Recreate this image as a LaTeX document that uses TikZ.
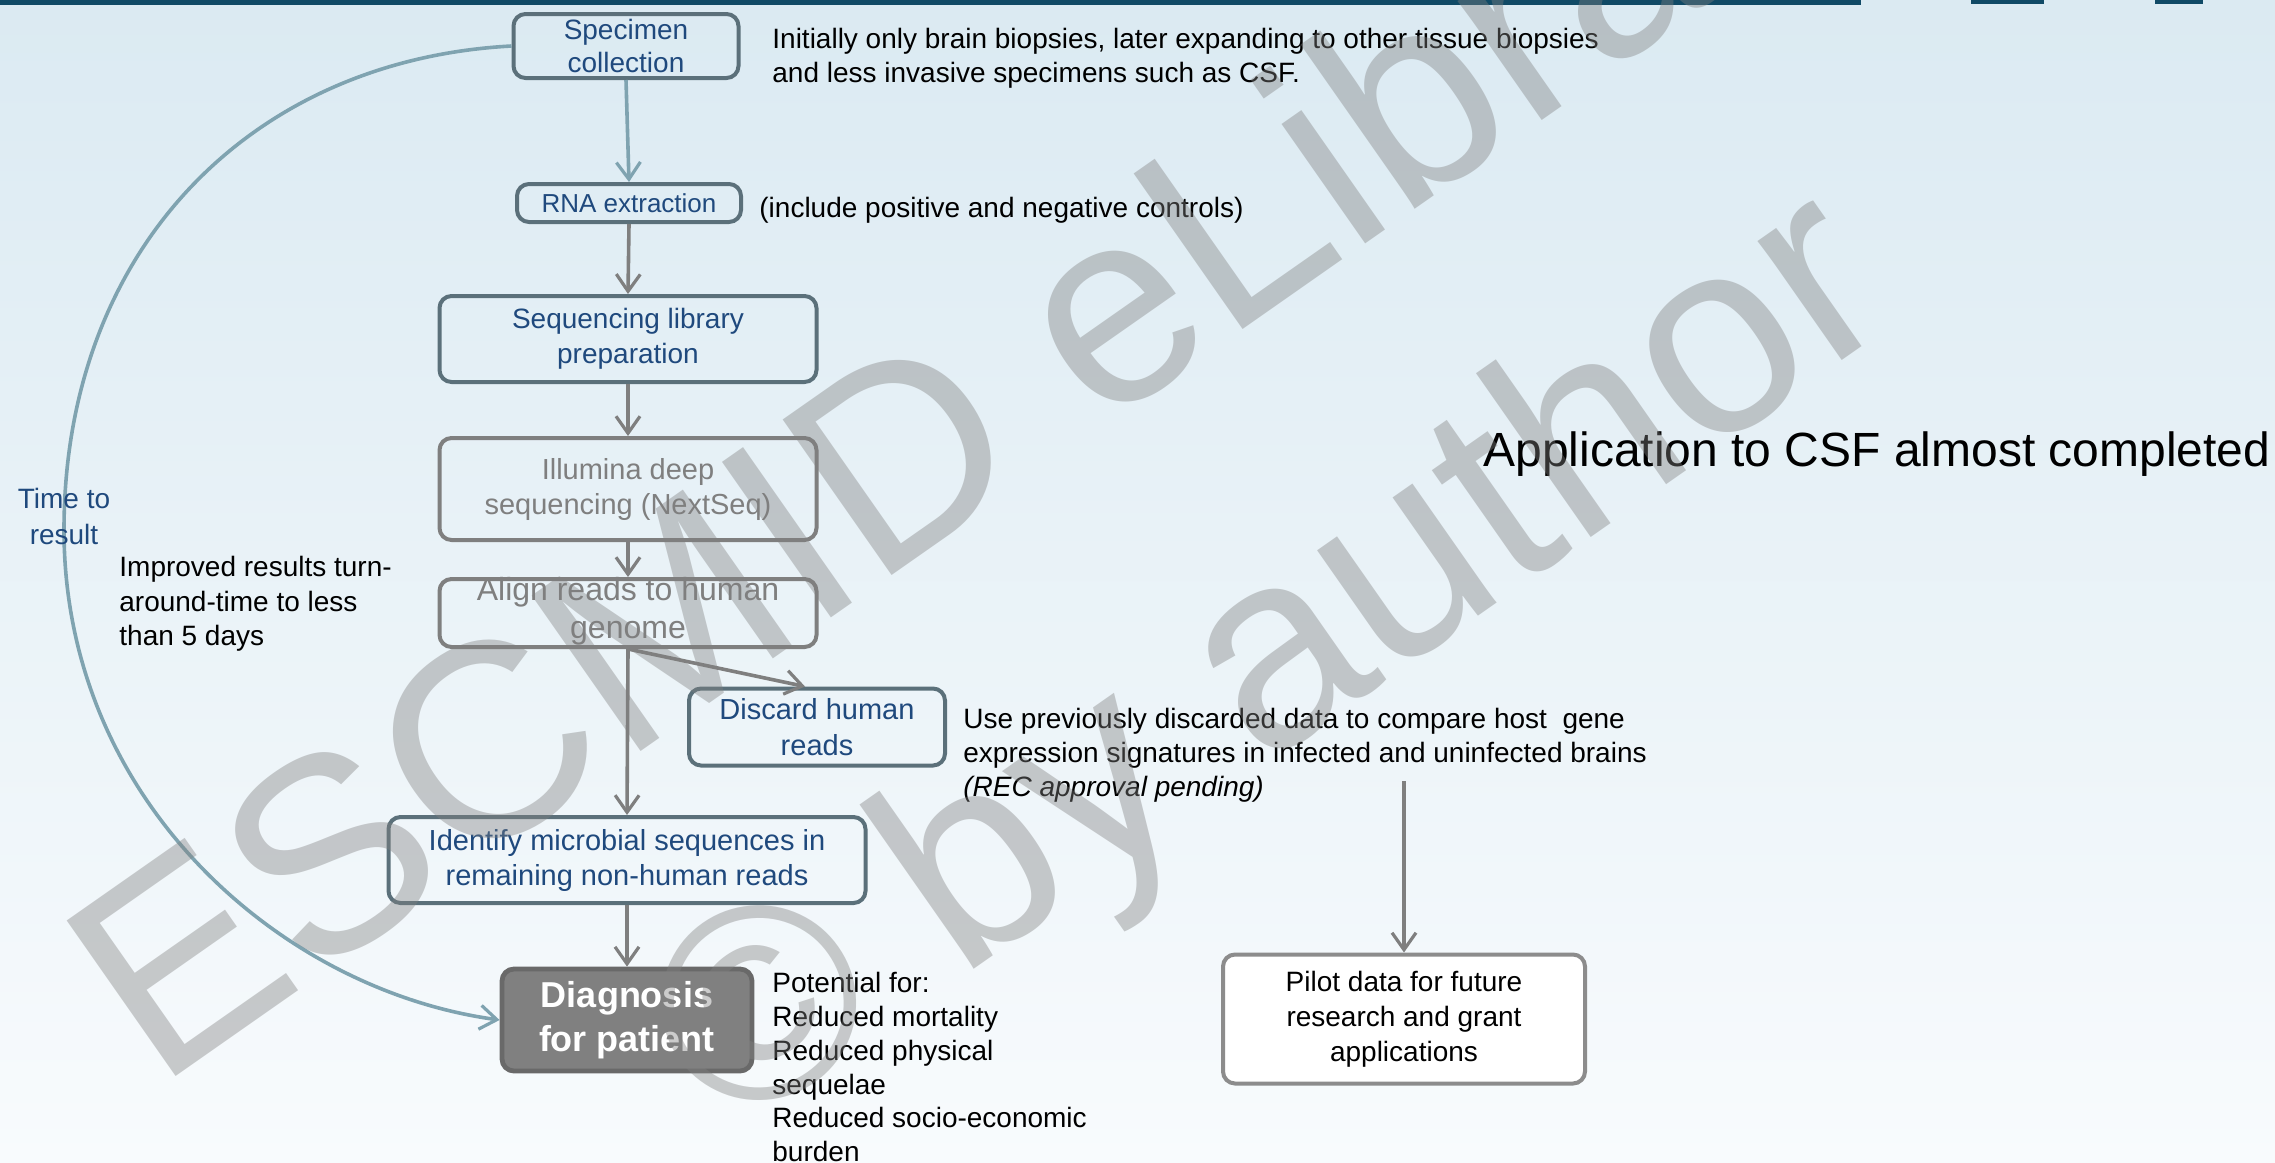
\documentclass[tikz,border=0pt]{standalone}
\usepackage{fontspec}
\setmainfont{Liberation Sans}
\usetikzlibrary{arrows.meta}
\definecolor{bgtop}{RGB}{219,234,242}
\definecolor{bgbot}{RGB}{248,251,253}
\definecolor{band}{RGB}{16,74,102}
\definecolor{slate}{RGB}{91,112,122}
\definecolor{navy}{RGB}{31,73,125}
\definecolor{midgray}{RGB}{127,127,127}
\definecolor{tealc}{RGB}{127,163,176}
\definecolor{diagfill}{RGB}{128,128,128}
\definecolor{diagdraw}{RGB}{105,105,105}
\definecolor{pilotdraw}{RGB}{140,140,140}
\begin{document}
\begin{tikzpicture}[x=0.5pt,y=-0.5pt,
  box/.style={rounded corners=6pt, line width=2pt, inner sep=0pt, align=center,
    font=\fontsize{14}{16.9}\selectfont},
  bluebox/.style={box, draw=slate, text=navy},
  graybox/.style={box, draw=midgray, text=midgray},
  arr/.style={-{Straight Barb[length=8.5pt,width=12pt,line width=1.6pt]}, line width=1.8pt, draw=midgray},
  tarr/.style={arr, draw=tealc},
  txt/.style={anchor=north west, inner sep=0pt, align=left, font=\fontsize{14}{16.9}\selectfont},
  wm/.style={anchor=base west, inner sep=0pt, rotate=35, text=black!50, opacity=0.4,
    font=\fontsize{138}{160}\selectfont}
]
% background
\useasboundingbox (0,0) rectangle (2275,1162);
\shade[top color=bgtop, bottom color=bgbot] (0,0) rectangle (2275,1162);
\fill[band] (0,0) rectangle (1861,5);
\fill[band] (1971,0) rectangle (2044,4);
\fill[band] (2155,0) rectangle (2203,4);

% nodes
\node[bluebox, minimum width=112.5pt, minimum height=32pt] (spec) at (626,46) {Specimen\\collection};
\node[bluebox, minimum width=112pt, minimum height=19pt, font=\fontsize{13}{15}\selectfont] (rna) at (629,203) {RNA extraction};
\node[bluebox, minimum width=188.5pt, minimum height=43pt, font=\fontsize{14}{17.5}\selectfont] (lib) at (628,339) {Sequencing library\\preparation};
\node[graybox, minimum width=188.5pt, minimum height=51pt, font=\fontsize{14.5}{17.5}\selectfont] (illu) at (628,489) {Illumina deep\\sequencing (NextSeq)};
\node[graybox, minimum width=188.5pt, minimum height=34pt] (align) at (628,613) {};
\node[inner sep=0pt, align=center, text=midgray, font=\fontsize{16}{19}\selectfont] (alignt) at ([yshift=1pt]align.center) {Align reads to human\\genome};
\node[bluebox, minimum width=128pt, minimum height=38.5pt, font=\fontsize{14.5}{18}\selectfont] (disc) at (817,727) {Discard human\\reads};
\node[bluebox, minimum width=238.5pt, minimum height=43pt, font=\fontsize{14.5}{17.5}\selectfont] (ident) at (627,860) {Identify microbial sequences in\\remaining non-human reads};
\node[box, draw=diagdraw, fill=diagfill, text=white, line width=2.4pt, minimum width=125pt, minimum height=51pt,
  font=\fontsize{18}{21.8}\selectfont\bfseries] (diag) at (627,1020) {Diagnosis\\for patient};
\node[box, draw=pilotdraw, fill=white, text=black, minimum width=181pt, minimum height=64.5pt,
  font=\fontsize{14}{17.4}\selectfont] (pilot) at (1404,1019) {Pilot data for future\\research and grant\\applications};
\coordinate (pilotin) at (1404,781);

% connectors
\draw[tarr] (spec.south) -- (rna.north);
\draw[arr] (rna.south) -- (lib.north);
\draw[arr] (lib.south) -- (illu.north);
\draw[arr] (illu.south) -- (align.north);
\draw[arr] (align.south) -- (ident.north);
\draw[arr] (align.south) -- ([xshift=-6pt]disc.north);
\draw[arr] (ident.south) -- (diag.north);
\draw[arr] (pilotin) -- (pilot.north);
\coordinate (leftmost) at (64,530);
\draw[tarr] (spec.west) .. controls (250,60) and (64,250) .. (leftmost)
  .. controls (64,800) and (280,990) .. (diag.west);

% texts
\node[txt] (t1) at (772,28) {Initially only brain biopsies, later expanding to other tissue biopsies\\and less invasive specimens such as CSF.};
\node[txt] (t2) at (759,197) {(include positive and negative controls)};
\node[anchor=north, inner sep=0pt, align=center, text=navy, font=\fontsize{14}{18}\selectfont] (ttr) at (64,488) {Time to\\result};
\node[txt, font=\fontsize{14}{17.3}\selectfont] (t3) at (119,556) {Improved results turn-\\around-time to less\\than 5 days};
\node[txt, font=\fontsize{14}{17}\selectfont] (t4) at (963,708) {Use previously discarded data to compare host\ \ gene\\expression signatures in infected and uninfected brains\\\textit{(REC approval pending)}};
\node[txt] (t5) at (772,972) {Potential for:\\Reduced mortality\\Reduced physical\\sequelae\\Reduced socio-economic\\burden};
\node[anchor=west, inner sep=0pt, font=\fontsize{24}{28}\selectfont] (t6) at (1483,454) {Application to CSF almost completed};

% watermark
\node[wm] (wm1) at (157,1090) {ESCMID eLibrary};
\node[wm] (wm2) at (730,1140) {© by author};
\end{tikzpicture}
\end{document}
